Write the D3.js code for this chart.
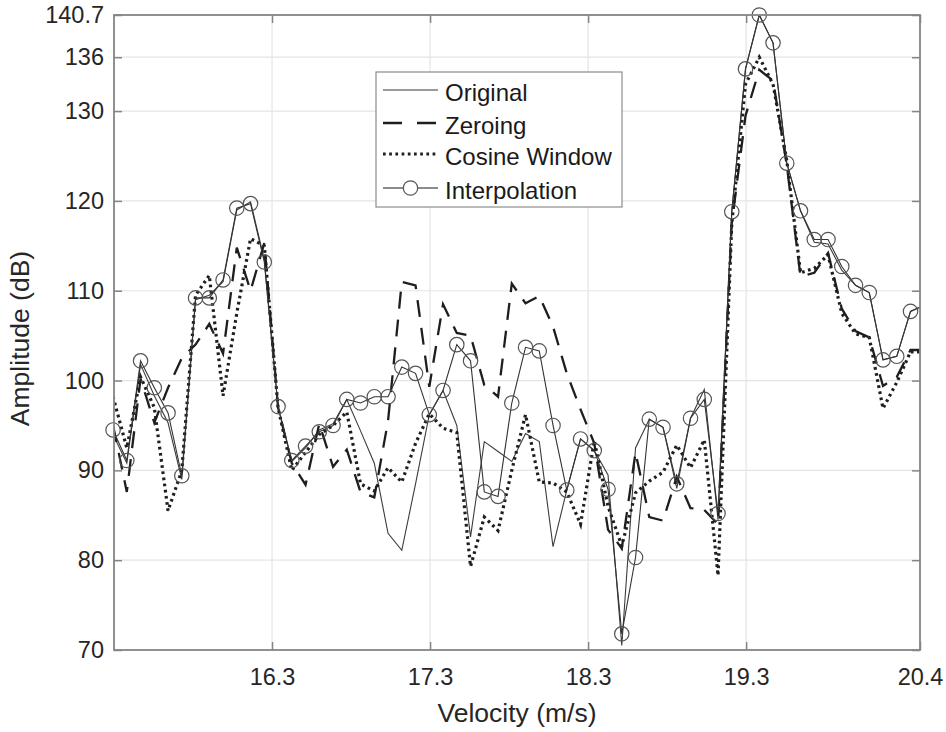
<!DOCTYPE html>
<html>
<head>
<meta charset="utf-8">
<script src="https://cdn.jsdelivr.net/npm/d3@7"></script>
<style>
  html, body { margin: 0; padding: 0; background: #fff; }
  svg { display: block; font-family: "Liberation Sans", Arial, Helvetica, sans-serif; }
</style>
</head>
<body>
<svg id="chart" width="946" height="732"></svg>
<script>
// Velocity bins (m/s)
const velocity = [15.294,15.381,15.468,15.555,15.642,15.729,15.816,15.903,15.990,16.077,
  16.164,16.251,16.338,16.425,16.512,16.599,16.686,16.773,16.860,16.947,
  17.034,17.121,17.208,17.295,17.382,17.469,17.556,17.643,17.730,17.817,
  17.904,17.991,18.078,18.165,18.252,18.339,18.426,18.513,18.600,18.687,
  18.774,18.861,18.948,19.035,19.122,19.209,19.296,19.383,19.470,19.557,
  19.644,19.731,19.818,19.905,19.992,20.079,20.166,20.253,20.340,20.427];

// Spectrum amplitude (dB) for each processing method
const original = [94.0,90.8,101.8,98.3,95.3,89.0,109.0,109.5,111.0,119.0,
  119.9,113.5,97.0,91.0,92.5,94.5,95.2,97.9,94.4,90.8,
  83.0,81.1,88.5,96.2,98.9,95.0,82.6,93.2,92.1,91.0,
  94.1,93.2,81.5,87.8,93.5,92.2,89.5,70.5,92.5,95.7,
  94.8,88.0,95.8,99.0,84.5,118.8,134.7,140.7,137.6,124.2,
  118.9,115.4,115.2,112.3,110.6,109.8,102.3,102.7,107.7,108.4];

const zeroing = [95.0,87.6,100.2,95.3,99.2,102.5,104.0,106.3,103.0,114.8,
  110.0,115.3,97.0,90.8,88.4,95.2,90.4,92.3,87.6,87.0,
  95.5,111.0,110.6,99.3,108.5,105.3,105.0,99.5,98.2,110.8,
  108.6,109.4,106.0,100.8,96.8,93.0,83.4,81.3,92.0,84.8,
  84.4,89.3,85.8,85.6,84.0,117.5,129.5,134.6,133.4,124.0,
  111.6,112.0,114.2,108.0,105.5,104.8,99.4,100.4,103.4,103.4];

const cosineWindow = [98.2,92.5,100.4,97.0,85.5,90.0,109.5,111.7,98.3,107.5,
  115.8,115.0,97.0,90.0,92.0,94.0,95.0,96.5,88.5,87.7,
  90.3,88.7,93.0,96.3,94.7,94.2,79.3,84.8,83.3,90.0,
  96.2,88.7,88.6,87.6,84.0,93.3,86.0,81.6,87.5,88.8,
  89.8,92.8,90.3,93.4,78.3,117.5,133.0,136.0,133.0,124.5,
  112.0,112.5,114.0,107.5,105.2,104.8,96.9,99.8,103.2,103.2];

const interpolation = [94.5,91.1,102.2,99.2,96.4,89.4,109.2,109.2,111.2,119.2,
  119.7,113.2,97.1,91.1,92.7,94.3,95.0,97.9,97.5,98.2,
  98.2,101.5,100.8,96.2,98.9,104.0,102.2,87.6,87.1,97.5,
  103.7,103.3,95.0,87.8,93.5,92.2,87.9,71.8,80.3,95.7,
  94.8,88.5,95.8,97.9,85.2,118.8,134.7,140.7,137.6,124.2,
  118.9,115.7,115.7,112.7,110.6,109.8,102.3,102.7,107.7,108.4];

const xTicks = [16.3, 17.3, 18.3, 19.3, 20.4];
const yTicks = [70, 80, 90, 100, 110, 120, 130, 136, 140.7];
const seriesNames = ["Original", "Zeroing", "Cosine Window", "Interpolation"];

const svg = d3.select("#chart");
const plot = { left: 114, right: 920, top: 15, bottom: 650 };

const x = d3.scaleLinear().domain([15.3, 20.4]).range([plot.left, plot.right]);
const y = d3.scaleLinear().domain([70, 140.7]).range([plot.bottom, plot.top]);

const axisColor = "#858585";
const textColor = "#262626";

svg.append("defs").append("clipPath").attr("id", "plotClip")
  .append("rect")
  .attr("x", plot.left).attr("y", plot.top)
  .attr("width", plot.right - plot.left).attr("height", plot.bottom - plot.top);

// Grid
const grid = svg.append("g").attr("class", "grid");
grid.selectAll("line.gx").data(xTicks).join("line")
  .attr("x1", d => x(d)).attr("x2", d => x(d))
  .attr("y1", plot.top).attr("y2", plot.bottom)
  .attr("stroke", "#e4e4e4").attr("stroke-width", 1.2);
grid.selectAll("line.gy").data(yTicks).join("line")
  .attr("x1", plot.left).attr("x2", plot.right)
  .attr("y1", d => y(d)).attr("y2", d => y(d))
  .attr("stroke", "#e4e4e4").attr("stroke-width", 1.2);

// Data lines
const points = name => velocity.map((v, i) => [v, name[i]]);
const line = d3.line().x(d => x(d[0])).y(d => y(d[1]));
const data = svg.append("g").attr("clip-path", "url(#plotClip)");

data.append("path").datum(points(original))
  .attr("d", line).attr("fill", "none")
  .attr("stroke", "#3c3c3c").attr("stroke-width", 1.1);

data.append("path").datum(points(zeroing))
  .attr("d", line).attr("fill", "none")
  .attr("stroke", "#1e1e1e").attr("stroke-width", 2.3)
  .attr("stroke-dasharray", "17,11");

data.append("path").datum(points(cosineWindow))
  .attr("d", line).attr("fill", "none")
  .attr("stroke", "#1e1e1e").attr("stroke-width", 3.2)
  .attr("stroke-dasharray", "2.7,3.5");

data.append("path").datum(points(interpolation))
  .attr("d", line).attr("fill", "none")
  .attr("stroke", "#333").attr("stroke-width", 1.1);

// Interpolation markers (inside the axis limits)
svg.append("g").selectAll("circle")
  .data(points(interpolation).filter(d => d[0] <= 20.4))
  .join("circle")
  .attr("cx", d => x(d[0])).attr("cy", d => y(d[1]))
  .attr("r", 7.2)
  .attr("fill", "none").attr("stroke", "#555").attr("stroke-width", 1.2);

// Axes
const fmt = d => String(d);
const axB = svg.append("g").attr("transform", `translate(0,${plot.bottom})`)
  .call(d3.axisBottom(x).tickValues(xTicks).tickFormat(fmt).tickSize(-8).tickPadding(18));
const axL = svg.append("g").attr("transform", `translate(${plot.left},0)`)
  .call(d3.axisLeft(y).tickValues(yTicks).tickFormat(fmt).tickSize(-8).tickPadding(10));
const axT = svg.append("g").attr("transform", `translate(0,${plot.top})`)
  .call(d3.axisTop(x).tickValues(xTicks).tickFormat("").tickSize(-8));
const axR = svg.append("g").attr("transform", `translate(${plot.right},0)`)
  .call(d3.axisRight(y).tickValues(yTicks).tickFormat("").tickSize(-8));

[axB, axL, axT, axR].forEach(g => {
  g.select(".domain").remove();
  g.selectAll(".tick line").attr("stroke", axisColor).attr("stroke-width", 1.5);
  g.selectAll(".tick text").attr("fill", textColor)
    .style("font-size", "23.5px")
    .style("font-family", "'Liberation Sans', Arial, sans-serif");
});

// Plot box
svg.append("rect")
  .attr("x", plot.left).attr("y", plot.top)
  .attr("width", plot.right - plot.left).attr("height", plot.bottom - plot.top)
  .attr("fill", "none").attr("stroke", axisColor).attr("stroke-width", 1.8);

// Axis labels
svg.append("text")
  .attr("x", (plot.left + plot.right) / 2).attr("y", 722)
  .attr("text-anchor", "middle").attr("fill", textColor)
  .style("font-size", "26.5px")
  .text("Velocity (m/s)");

svg.append("text")
  .attr("transform", `translate(29,${(plot.top + plot.bottom) / 2 + 6}) rotate(-90)`)
  .attr("text-anchor", "middle").attr("fill", textColor)
  .style("font-size", "26.5px")
  .text("Amplitude (dB)");

// Legend
const legend = svg.append("g").attr("transform", "translate(376,72)");
legend.append("rect")
  .attr("width", 246).attr("height", 135)
  .attr("fill", "#fff").attr("stroke", "#8c8c8c").attr("stroke-width", 1.2);

const legendStyles = [
  { stroke: "#7a7a7a", width: 1.3, dash: null, marker: false },
  { stroke: "#1e1e1e", width: 2.3, dash: "19,15", marker: false },
  { stroke: "#1e1e1e", width: 3.2, dash: "2.7,3.5", marker: false },
  { stroke: "#666", width: 1.3, dash: null, marker: true }
];
const rowY = [18, 51, 82, 116];

const rows = legend.selectAll("g.row").data(seriesNames).join("g")
  .attr("transform", (d, i) => `translate(0,${rowY[i]})`);
rows.append("line")
  .attr("x1", 7).attr("x2", 62).attr("y1", 0).attr("y2", 0)
  .attr("stroke", (d, i) => legendStyles[i].stroke)
  .attr("stroke-width", (d, i) => legendStyles[i].width)
  .attr("stroke-dasharray", (d, i) => legendStyles[i].dash);
rows.filter((d, i) => legendStyles[i].marker).append("circle")
  .attr("cx", 34.5).attr("cy", 0).attr("r", 7.2)
  .attr("fill", "#fff").attr("stroke", "#555").attr("stroke-width", 1.2);
rows.append("text")
  .attr("x", 69).attr("y", 0).attr("dy", "0.46em")
  .attr("fill", "#1a1a1a")
  .style("font-size", "24px")
  .text(d => d);
</script>
</body>
</html>
